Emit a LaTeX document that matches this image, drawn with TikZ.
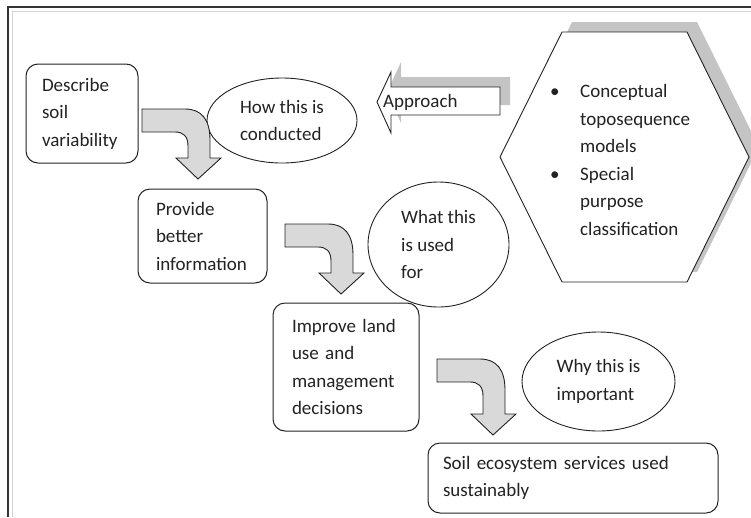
\documentclass[tikz,border=0pt]{standalone}
\usepackage{fontspec}
\setmainfont{Carlito}
\usetikzlibrary{shapes.geometric,calc}

\definecolor{ink}{HTML}{222222}
\definecolor{arrowfill}{HTML}{D9D9D9}
\definecolor{shade}{HTML}{C4C4C4}
\definecolor{frameline}{HTML}{333333}
\definecolor{framelight}{HTML}{D4D4D4}

\tikzset{
  txt/.style={font=\fontsize{19}{27.5}\selectfont, text=ink},
  stepbox/.style={txt, draw=ink, line width=1pt, rounded corners=12pt,
    align=left, inner ysep=0pt},
  bubble/.style={txt, ellipse, draw=ink, line width=0.9pt, inner sep=0pt,
    align=left},
  flowarrow/.style={draw=ink, line width=0.9pt, fill=arrowfill, line join=miter},
  outline/.style={draw=ink, line width=0.9pt, fill=white},
  shadowfill/.style={fill=shade, draw=none},
}

% bent block arrow: horizontal shaft turning down into an arrow head
% #1 = top-left corner of the shaft, #2 = extra drop of the head
\newcommand{\bentarrow}[2]{%
  \begin{scope}[shift={#1}]
    \draw[flowarrow] (0,0) -- (43,0) .. controls (60,0) and (68,11) .. (68,31)
      -- (68,49+#2) -- (79,49+#2) -- (56,70+#2) -- (34,49+#2) -- (46,49+#2)
      -- (46,37) .. controls (46,27) and (41,23) .. (33,23) -- (0,23) -- cycle;
  \end{scope}}

\begin{document}
\begin{tikzpicture}[x=1pt,y=-1pt]
  \useasboundingbox (0,0) rectangle (751,517);

  % page frame: dark rule with a light inner rule
  \draw[framelight, line width=1pt] (12,517) -- (12,11) -- (751,11);
  \draw[frameline, line width=1.8pt] (8,517) -- (8,7) -- (751,7);

  % hexagon with its drop shadow
  \coordinate (hexshift) at (10,-10);
  \begin{scope}[shift={(10,-10)}]
    \fill[shadowfill] (500,157) -- (562,32) -- (687,32) -- (749,157)
      -- (687,282) -- (562,282) -- cycle;
  \end{scope}
  \draw[outline] (500,157) -- (562,32) -- (687,32) -- (749,157)
    -- (687,282) -- (562,282) -- cycle;
  \node[txt, anchor=west, align=left, inner sep=0pt] (methods) at (550,160)
    {\makebox[30pt][l]{•}Conceptual\\
     \hspace*{30pt}toposequence\\
     \hspace*{30pt}models\\
     \makebox[30pt][l]{•}Special\\
     \hspace*{30pt}purpose\\
     \hspace*{30pt}classification};

  % "Approach" block arrow with its drop shadow
  \begin{scope}[shift={(10,-10)}]
    \fill[shadowfill] (377,102) -- (391,72) -- (391,87) -- (500,87)
      -- (500,115) -- (391,115) -- (391,133) -- cycle;
  \end{scope}
  \draw[outline, line join=miter] (377,102) -- (391,72) -- (391,87) -- (500,87)
    -- (500,115) -- (391,115) -- (391,133) -- cycle;
  \node[txt, anchor=west, inner sep=0pt] (approach) at (383,102) {Approach};

  % steps of the chain
  \node[stepbox, minimum width=112pt, minimum height=99pt, text width=80pt,
    inner xsep=16pt] (describe) at (82,113.5) {Describe\\soil\\variability};
  \node[stepbox, minimum width=129pt, minimum height=94pt, text width=93pt,
    inner xsep=18pt] (provide) at (202.5,236) {Provide\\better\\information};
  \node[stepbox, minimum width=146pt, minimum height=128pt, text width=108pt,
    inner xsep=19pt] (improve) at (346,367)
    {Improve land\\use and\\management\\decisions};
  \node[stepbox, minimum width=290pt, minimum height=70pt, text width=260pt,
    inner xsep=15pt] (soil) at (573,478)
    {Soil ecosystem services used\\sustainably};

  % questions
  \node[bubble, minimum width=150pt, minimum height=85pt] (how) at (282,120.5)
    {How this is\\conducted};
  \node[bubble, minimum width=141pt, minimum height=125pt] (what) at (438.5,244.5)
    {What this\\is used\\for};
  \node[bubble, minimum width=153pt, minimum height=99pt] (why) at (598.5,381.5)
    {Why this is\\important};

  % bent arrows linking the steps
  \bentarrow{(142,109)}{0}
  \bentarrow{(285,224)}{0}
  \bentarrow{(437,359)}{6}
\end{tikzpicture}
\end{document}
